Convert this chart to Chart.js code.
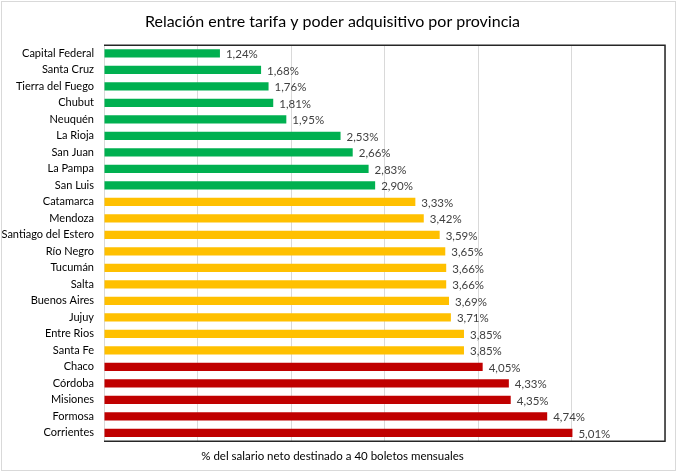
<!DOCTYPE html>
<html lang="es">
<head>
<meta charset="UTF-8">
<title>Relación entre tarifa y poder adquisitivo por provincia</title>
<script src="https://cdn.jsdelivr.net/npm/chart.js"></script>
<style>
    html, body { margin: 0; padding: 0; background: #fff; }
    .frame {
        position: absolute;
        left: 1px; top: 1px;
        width: 675px; height: 470px;
        border: 1px solid #d9d9d9;
        box-sizing: border-box;
    }
    canvas { position: absolute; left: 0; top: 0; }
</style>
</head>
<body>
<div class="frame"></div>
<canvas id="chart" width="679" height="474"></canvas>
<script>
// provinces, top to bottom
const provinces = [
    'Capital Federal', 'Santa Cruz', 'Tierra del Fuego', 'Chubut', 'Neuquén',
    'La Rioja', 'San Juan', 'La Pampa', 'San Luis', 'Catamarca', 'Mendoza',
    'Santiago del Estero', 'Río Negro', 'Tucumán', 'Salta', 'Buenos Aires',
    'Jujuy', 'Entre Rios', 'Santa Fe', 'Chaco', 'Córdoba', 'Misiones',
    'Formosa', 'Corrientes'
];
// % of net salary spent on 40 monthly tickets
const shares = [
    1.24, 1.68, 1.76, 1.81, 1.95, 2.53, 2.66, 2.83, 2.90, 3.33, 3.42,
    3.59, 3.65, 3.66, 3.66, 3.69, 3.71, 3.85, 3.85, 4.05, 4.33, 4.35,
    4.74, 5.01
];
// band per province: 0 = green, 1 = yellow, 2 = red
const bands = [
    0, 0, 0, 0, 0, 0, 0, 0, 0,
    1, 1, 1, 1, 1, 1, 1, 1, 1, 1,
    2, 2, 2, 2, 2
];
const bandColors = ['#00b050', '#ffc000', '#c00000'];

const FONT = "Lato, 'Liberation Sans', sans-serif";

// value labels at the end of each bar
const barLabels = {
    id: 'barLabels',
    afterDatasetsDraw(chart) {
        const ctx = chart.ctx;
        const meta = chart.getDatasetMeta(0);
        ctx.save();
        ctx.font = '11.5px ' + FONT;
        ctx.fillStyle = '#404040';
        ctx.textAlign = 'left';
        ctx.textBaseline = 'middle';
        meta.data.forEach((bar, i) => {
            const txt = shares[i].toFixed(2).replace('.', ',') + '%';
            ctx.fillText(txt, bar.x + 6, bar.y + 1);
        });
        ctx.restore();
    }
};

// dark frame on top, right and bottom of the plot
const plotFrame = {
    id: 'plotFrame',
    afterDraw(chart) {
        const a = chart.chartArea;
        const ctx = chart.ctx;
        ctx.save();
        ctx.strokeStyle = '#262626';
        ctx.lineWidth = 1.5;
        ctx.beginPath();
        ctx.moveTo(a.left, a.top);
        ctx.lineTo(a.right, a.top);
        ctx.lineTo(a.right, a.bottom);
        ctx.lineTo(a.left, a.bottom);
        ctx.stroke();
        ctx.restore();
    }
};

new Chart(document.getElementById('chart'), {
    type: 'bar',
    data: {
        labels: provinces,
        datasets: [{
            data: shares,
            backgroundColor: bands.map(b => bandColors[b]),
            barPercentage: 0.5,
            categoryPercentage: 1.0
        }]
    },
    plugins: [barLabels, plotFrame],
    options: {
        indexAxis: 'y',
        responsive: false,
        animation: false,
        layout: { padding: { left: 0, right: 14, top: 6, bottom: 11 } },
        plugins: {
            legend: { display: false },
            tooltip: { enabled: false },
            title: {
                display: true,
                text: 'Relación entre tarifa y poder adquisitivo por provincia',
                color: '#000',
                font: { family: FONT, size: 16, weight: 'normal' },
                padding: { top: 6, bottom: 14 }
            },
            subtitle: {
                display: true,
                position: 'bottom',
                text: '% del salario neto destinado a 40 boletos mensuales',
                color: '#000',
                font: { family: FONT, size: 11.5 },
                padding: { top: 8, bottom: 0 }
            }
        },
        scales: {
            x: {
                min: 0,
                max: 6,
                ticks: { display: false, stepSize: 1 },
                grid: { color: '#d9d9d9', drawTicks: false },
                border: { display: false }
            },
            y: {
                ticks: {
                    color: '#000',
                    font: { family: FONT, size: 11 },
                    padding: 10,
                    autoSkip: false
                },
                grid: { display: false, drawTicks: false },
                border: { display: false },
                afterFit(scale) { scale.width = 104; }
            }
        }
    }
});
</script>
</body>
</html>
